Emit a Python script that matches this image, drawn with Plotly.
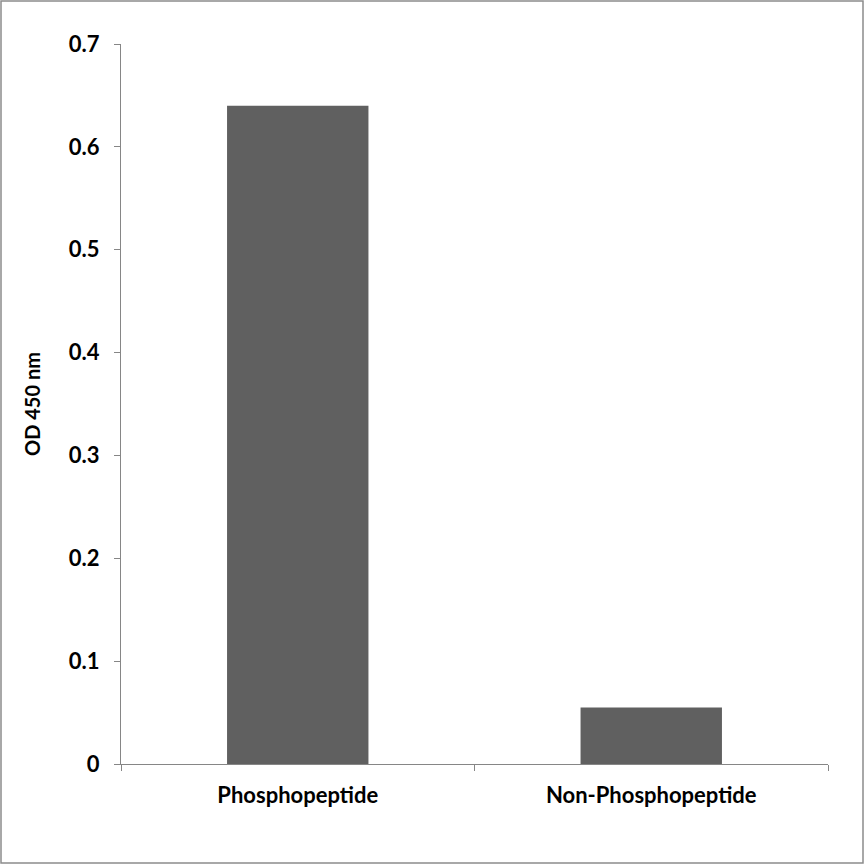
import plotly.graph_objects as go

# data
samples = ["Phosphopeptide", "Non-Phosphopeptide"]
od450 = [0.64, 0.055]

W, H = 865, 865
ml, mr, mt, mb = 121, 37, 44, 101

fig = go.Figure()
fig.add_trace(go.Bar(x=samples, y=od450, marker=dict(color="#606060", line=dict(width=0)),
                     width=0.4))

pw = W - ml - mr
ph = H - mt - mb

# grey frame round the whole picture
fig.add_shape(type="rect", xref="paper", yref="paper",
              x0=(1 - ml) / pw, x1=(W - 2 - ml) / pw,
              y0=-(H - 2 - mt - ph) / ph, y1=1 + (mt - 1) / ph,
              line=dict(color="#8c8c8c", width=1.5))

fam = "Lato, 'Open Sans', sans-serif"

fig.update_layout(
    width=W, height=H,
    margin=dict(l=ml, r=mr, t=mt, b=mb),
    paper_bgcolor="white", plot_bgcolor="white",
    showlegend=False,
    font=dict(family=fam, color="#000"),
    xaxis=dict(showline=True, linecolor="#868686", linewidth=1,
               ticks="outside", ticklen=6, tickcolor="#868686",
               tickson="boundaries", showgrid=False, ticklabelstandoff=12,
               tickfont=dict(family=fam, size=22, color="#000", weight="bold")),
    yaxis=dict(range=[0, 0.7], dtick=0.1,
               showline=True, linecolor="#868686", linewidth=1,
               ticks="outside", ticklen=6, tickcolor="#868686",
               showgrid=False, zeroline=False, ticklabelstandoff=10,
               tickfont=dict(family=fam, size=22, color="#000", weight="bold"),
               title=dict(text="OD 450 nm", standoff=22,
                          font=dict(family=fam, size=20, color="#000", weight="bold"))),
)

fig.write_html("out.html", config={"displayModeBar": False},
               post_script="document.body.style.margin='0';")
